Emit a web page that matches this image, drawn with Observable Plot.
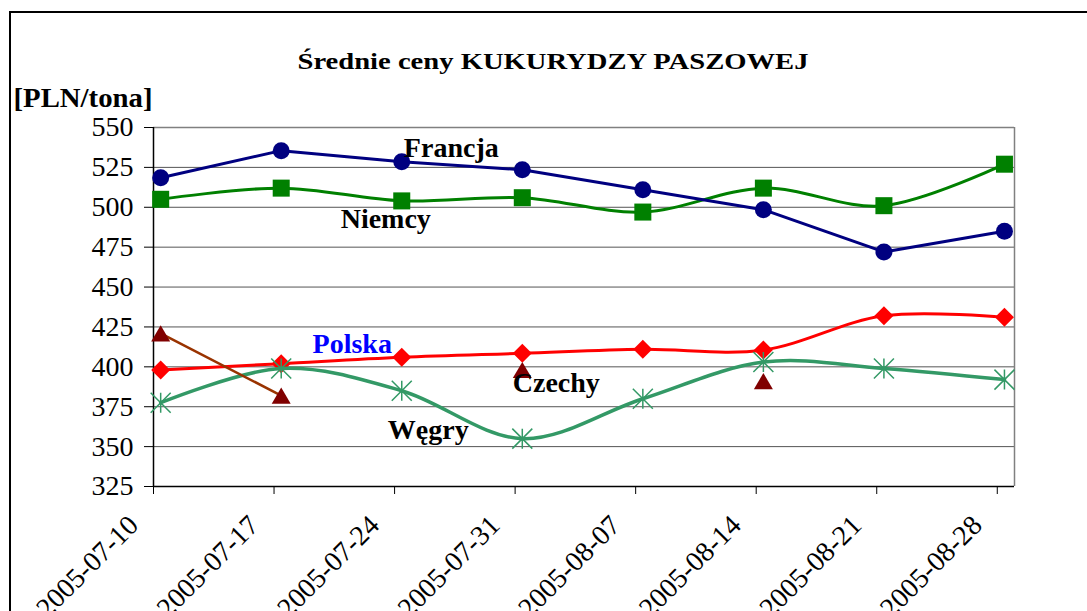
<!DOCTYPE html>
<html>
<head>
<meta charset="utf-8">
<script src="https://cdn.jsdelivr.net/npm/d3@7"></script>
<script src="https://cdn.jsdelivr.net/npm/@observablehq/plot@0.6"></script>
<style>
  html, body { margin: 0; padding: 0; background: #fff; }
  #wrap { position: relative; width: 1087px; height: 611px; overflow: hidden; background: #fff; }
  #frame { position: absolute; left: 9px; top: 11px; width: 2000px; height: 2000px;
           border-left: 2px solid #000; border-top: 2px solid #000; }
  #chart { position: absolute; left: 0; top: 0; }
</style>
</head>
<body>
<div id="wrap"><div id="frame"></div><div id="chart"></div></div>
<script>
// ---- data ----
const title = "Średnie ceny KUKURYDZY PASZOWEJ";
const unitLabel = "[PLN/tona]";
const dates = ["2005-07-10", "2005-07-17", "2005-07-24", "2005-07-31",
               "2005-08-07", "2005-08-14", "2005-08-21", "2005-08-28"];
const francja = [518.5, 535.5, 528.5, 523.5, 511, 498.5, 472, 485];
const niemcy  = [505, 512, 504, 506, 497, 512, 501, 527];
const polska  = [398, 402, 406, 408.5, 411, 410.5, 432, 431];
const wegry   = [377.5, 399, 385, 355, 380, 403, 399, 392];
const czechy  = [421, 382, null, 398, null, 391, null, null];
const yTicks  = [325, 350, 375, 400, 425, 450, 475, 500, 525, 550];

// ---- helpers ----
const serif = "Liberation Serif, DejaVu Serif, serif";
const parse = d3.utcParse("%Y-%m-%d");
const fmt = d3.utcFormat("%Y-%m-%d");
const tickDates = dates.map(parse);
const table = vals => dates.map((d, i) => ({date: parse(d), value: vals[i]}));
const px = d => d3.utcHour.offset(d.date, 10); // points sit slightly right of the date tick
const xDomain = [parse(dates[0]), d3.utcDay.offset(parse(dates[dates.length - 1]), 1)];

const diamondSym = {draw(ctx, size) { const r = Math.sqrt(size / Math.PI);
  ctx.moveTo(0, -r); ctx.lineTo(r, 0); ctx.lineTo(0, r); ctx.lineTo(-r, 0); ctx.closePath(); }};
const triangleSym = {draw(ctx, size) { const r = Math.sqrt(size / Math.PI);
  ctx.moveTo(0, -0.85 * r); ctx.lineTo(r, 0.85 * r); ctx.lineTo(-r, 0.85 * r); ctx.closePath(); }};
const starSym = {draw(ctx, size) { const r = Math.sqrt(size / Math.PI);
  ctx.moveTo(-r, -r); ctx.lineTo(r, r); ctx.moveTo(r, -r); ctx.lineTo(-r, r);
  ctx.moveTo(0, -r); ctx.lineTo(0, r); }};

const F = table(francja), N = table(niemcy), P = table(polska), W = table(wegry), C = table(czechy);
const at = (arr, i) => [{date: parse(dates[i]), value: arr[i]}];
const labelFont = {fontSize: 28, fontWeight: "bold", lineAnchor: "bottom", fontFamily: serif};

const chart = Plot.plot({
  width: 1087,
  height: 611,
  marginLeft: 153,
  marginRight: 73,
  marginTop: 127,
  marginBottom: 125,
  style: {fontFamily: serif, background: "transparent", color: "black"},
  x: {type: "utc", domain: xDomain, axis: null},
  y: {domain: [325, 550], axis: null},
  marks: [
    // grid
    Plot.ruleY(yTicks.slice(1, -1), {stroke: "#555", strokeWidth: 1}),
    Plot.ruleY([550], {stroke: "#808080", strokeWidth: 1.5}),
    Plot.ruleX([xDomain[1]], {stroke: "#808080", strokeWidth: 1.5}),
    Plot.ruleX([xDomain[0]], {stroke: "#000", strokeWidth: 1.5}),
    Plot.ruleY([325], {stroke: "#000", strokeWidth: 1.5}),
    // axes
    Plot.axisY({ticks: yTicks, tickSize: 9, tickPadding: 11, fontSize: 28, fontFamily: serif,
      tickFormat: d => d, label: null}),
    Plot.axisX({ticks: tickDates, tickSize: 8, tickFormat: () => null, label: null}),
    Plot.text(tickDates, {x: d => d, frameAnchor: "bottom", text: d => fmt(d), rotate: -45,
      textAnchor: "end", lineAnchor: "middle", dx: -20, dy: 34, fontSize: 28, fontFamily: serif}),
    // series
    Plot.line(N, {x: px, y: "value", stroke: "#008000", strokeWidth: 3, curve: "cardinal"}),
    Plot.dot(N, {x: px, y: "value", symbol: "square", r: 9.6, fill: "#008000", stroke: null}),
    Plot.line(F, {x: px, y: "value", stroke: "#000080", strokeWidth: 3}),
    Plot.dot(F, {x: px, y: "value", symbol: "circle", r: 8.5, fill: "#000080", stroke: null}),
    Plot.line(P, {x: px, y: "value", stroke: "#ff0000", strokeWidth: 3, curve: "cardinal"}),
    Plot.dot(P, {x: px, y: "value", symbol: diamondSym, r: 9.5, fill: "#ff0000", stroke: null}),
    Plot.line(W, {x: px, y: "value", stroke: "#339966", strokeWidth: 3.5, curve: "cardinal"}),
    Plot.dot(W, {x: px, y: "value", symbol: starSym, r: 10, fill: "none", stroke: "#339966", strokeWidth: 1.5}),
    Plot.line(C, {x: px, y: "value", stroke: "#993300", strokeWidth: 2.5}),
    Plot.dot(C.filter(d => d.value != null), {x: px, y: "value", symbol: triangleSym, r: 9.5, fill: "#800000", stroke: null}),
    // series labels
    Plot.text(at(francja, 3), {x: px, y: "value", text: () => "Francja", dx: -71, dy: -13, fill: "black", ...labelFont}),
    Plot.text(at(niemcy, 2), {x: px, y: "value", text: () => "Niemcy", dx: -16, dy: 27, fill: "black", ...labelFont}),
    Plot.text(at(polska, 1), {x: px, y: "value", text: () => "Polska", dx: 71, dy: -11, fill: "#0000ff", ...labelFont}),
    Plot.text(at(czechy, 3), {x: px, y: "value", text: () => "Czechy", dx: 34, dy: 22, fill: "black", ...labelFont}),
    Plot.text(at(wegry, 3), {x: px, y: "value", text: () => "Węgry", dx: -94, dy: 0, fill: "black", ...labelFont}),
    // title and unit
    Plot.text([title], {frameAnchor: "top", text: d => d, dx: -31, dy: -59, lineAnchor: "bottom",
      fontSize: 23, fontWeight: "bold", fill: "black", fontFamily: serif}),
    Plot.text([unitLabel], {frameAnchor: "top-left", text: d => d, dx: -140, dy: -21, textAnchor: "start",
      lineAnchor: "bottom", fontSize: 27, fontWeight: "bold", fill: "black", fontFamily: serif})
  ]
});
document.getElementById("chart").appendChild(chart);
// stretch the title and unit label to the reference's widths
const stretch = (txt, len) => d3.select(chart).selectAll("text")
  .filter(function() { return this.textContent === txt; })
  .attr("textLength", len).attr("lengthAdjust", "spacingAndGlyphs");
stretch(title, 511);
stretch(unitLabel, 139);
</script>
</body>
</html>
